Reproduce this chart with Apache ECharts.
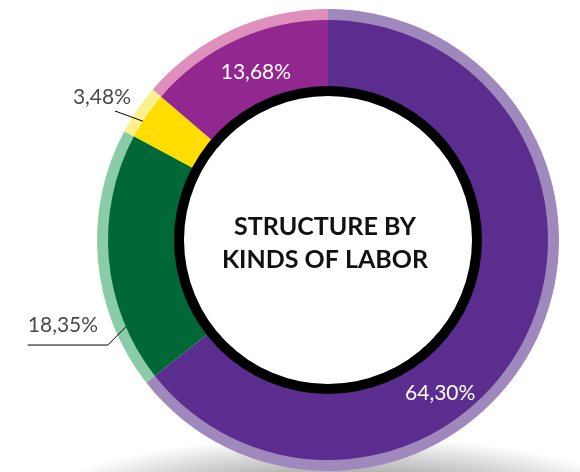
<!DOCTYPE html>
<html>
<head>
<meta charset="utf-8">
<script src="https://cdn.jsdelivr.net/npm/echarts@6/dist/echarts.min.js"></script>
<style>html,body{margin:0;padding:0;background:#fff;}#chart{width:580px;height:472px;}</style>
</head>
<body>
<div id="chart"></div>
<script>
// Data
var categories = ['Category A', 'Category B', 'Category C', 'Category D'];
var values = [64.30, 18.35, 3.48, 13.68];
var labels = ['64,30%', '18,35%', '3,48%', '13,68%'];
var mainColors = ['#5b2d8e', '#006837', '#ffdd00', '#92278f'];
var lightColors = ['#9f88bc', '#8acca8', '#faf08c', '#de8fbc'];
var centerTitle = 'STRUCTURE BY\nKINDS OF LABOR';

var CX = 328, CY = 240;
function polar(angDeg, r) {
  var a = angDeg * Math.PI / 180;
  return [CX + r * Math.sin(a), CY - r * Math.cos(a)];
}

var chart = echarts.init(document.getElementById('chart'), null, {renderer: 'canvas'});

var mainData = categories.map(function (c, i) {
  var inside = (i === 0 || i === 3);
  return {
    name: c, value: values[i],
    itemStyle: {color: mainColors[i]},
    label: {
      show: true,
      position: inside ? 'inside' : 'outside',
      formatter: labels[i],
      overflow: 'none', width: 120,
      color: inside ? '#ffffff' : '#4a4a4a',
      fontFamily: 'Lato', fontWeight: 'normal', fontSize: 21
    },
    labelLine: {show: !inside, lineStyle: {color: '#000', width: 1}}
  };
});

var lightData = categories.map(function (c, i) {
  return {name: c, value: values[i], itemStyle: {color: lightColors[i]}};
});

chart.setOption({
  animation: false,
  graphic: {
    elements: [{
      type: 'circle', z: 0, silent: true,
      x: 340, y: 508, scaleX: 4.3, scaleY: 1,
      shape: {cx: 0, cy: 0, r: 72},
      style: {
        fill: new echarts.graphic.RadialGradient(0.5, 0.5, 0.5, [
          {offset: 0, color: 'rgba(0,0,0,0.55)'},
          {offset: 0.5, color: 'rgba(0,0,0,0.3)'},
          {offset: 1, color: 'rgba(0,0,0,0)'}
        ])
      }
    }, {
      type: 'text', z: 10, silent: true,
      style: {
        text: centerTitle, x: CX - 3, y: CY + 3.5, align: 'center', verticalAlign: 'middle',
        fontFamily: 'Lato', fontWeight: 'bold', fontSize: 25, lineHeight: 33, fill: '#111'
      }
    }]
  },
  series: [
    {
      type: 'pie', center: [CX, CY], radius: [219, 231], startAngle: 90, clockwise: true,
      silent: true, label: {show: false}, labelLine: {show: false}, data: lightData, z: 2
    },
    {
      type: 'pie', center: [CX, CY], radius: [153, 220], startAngle: 90, clockwise: true,
      silent: true, data: mainData, z: 3,
      labelLayout: function (p) {
        var i = p.dataIndex;
        if (i === 0) { var q = polar(143.8, 190); return {x: q[0], y: q[1], align: 'center', verticalAlign: 'middle'}; }
        if (i === 3) { var q3 = polar(336.8, 183); return {x: q3[0], y: q3[1], align: 'center', verticalAlign: 'middle'}; }
        if (i === 2) {
          var s = polar(303.3, 210), e = polar(301.2, 249);
          return {x: e[0] + 16, y: e[1] - 14, align: 'right', verticalAlign: 'middle', labelLinePoints: [s, e, e]};
        }
        if (i === 1) {
          var s1 = polar(248.8, 202), m1 = polar(244.5, 244);
          var e1 = [m1[0] - 80, m1[1]];
          return {x: e1[0], y: e1[1] - 20, align: 'left', verticalAlign: 'middle', labelLinePoints: [s1, m1, e1]};
        }
      }
    },
    {
      type: 'pie', center: [CX, CY], radius: [0, 144], silent: true, z: 4,
      label: {show: false}, labelLine: {show: false},
      data: [{value: 1, itemStyle: {color: '#ffffff'}}]
    },
    {
      type: 'pie', center: [CX, CY], radius: [144, 154], silent: true, z: 5,
      label: {show: false}, labelLine: {show: false},
      data: [{value: 1, itemStyle: {color: '#000000'}}]
    }
  ]
});
</script>
</body>
</html>
